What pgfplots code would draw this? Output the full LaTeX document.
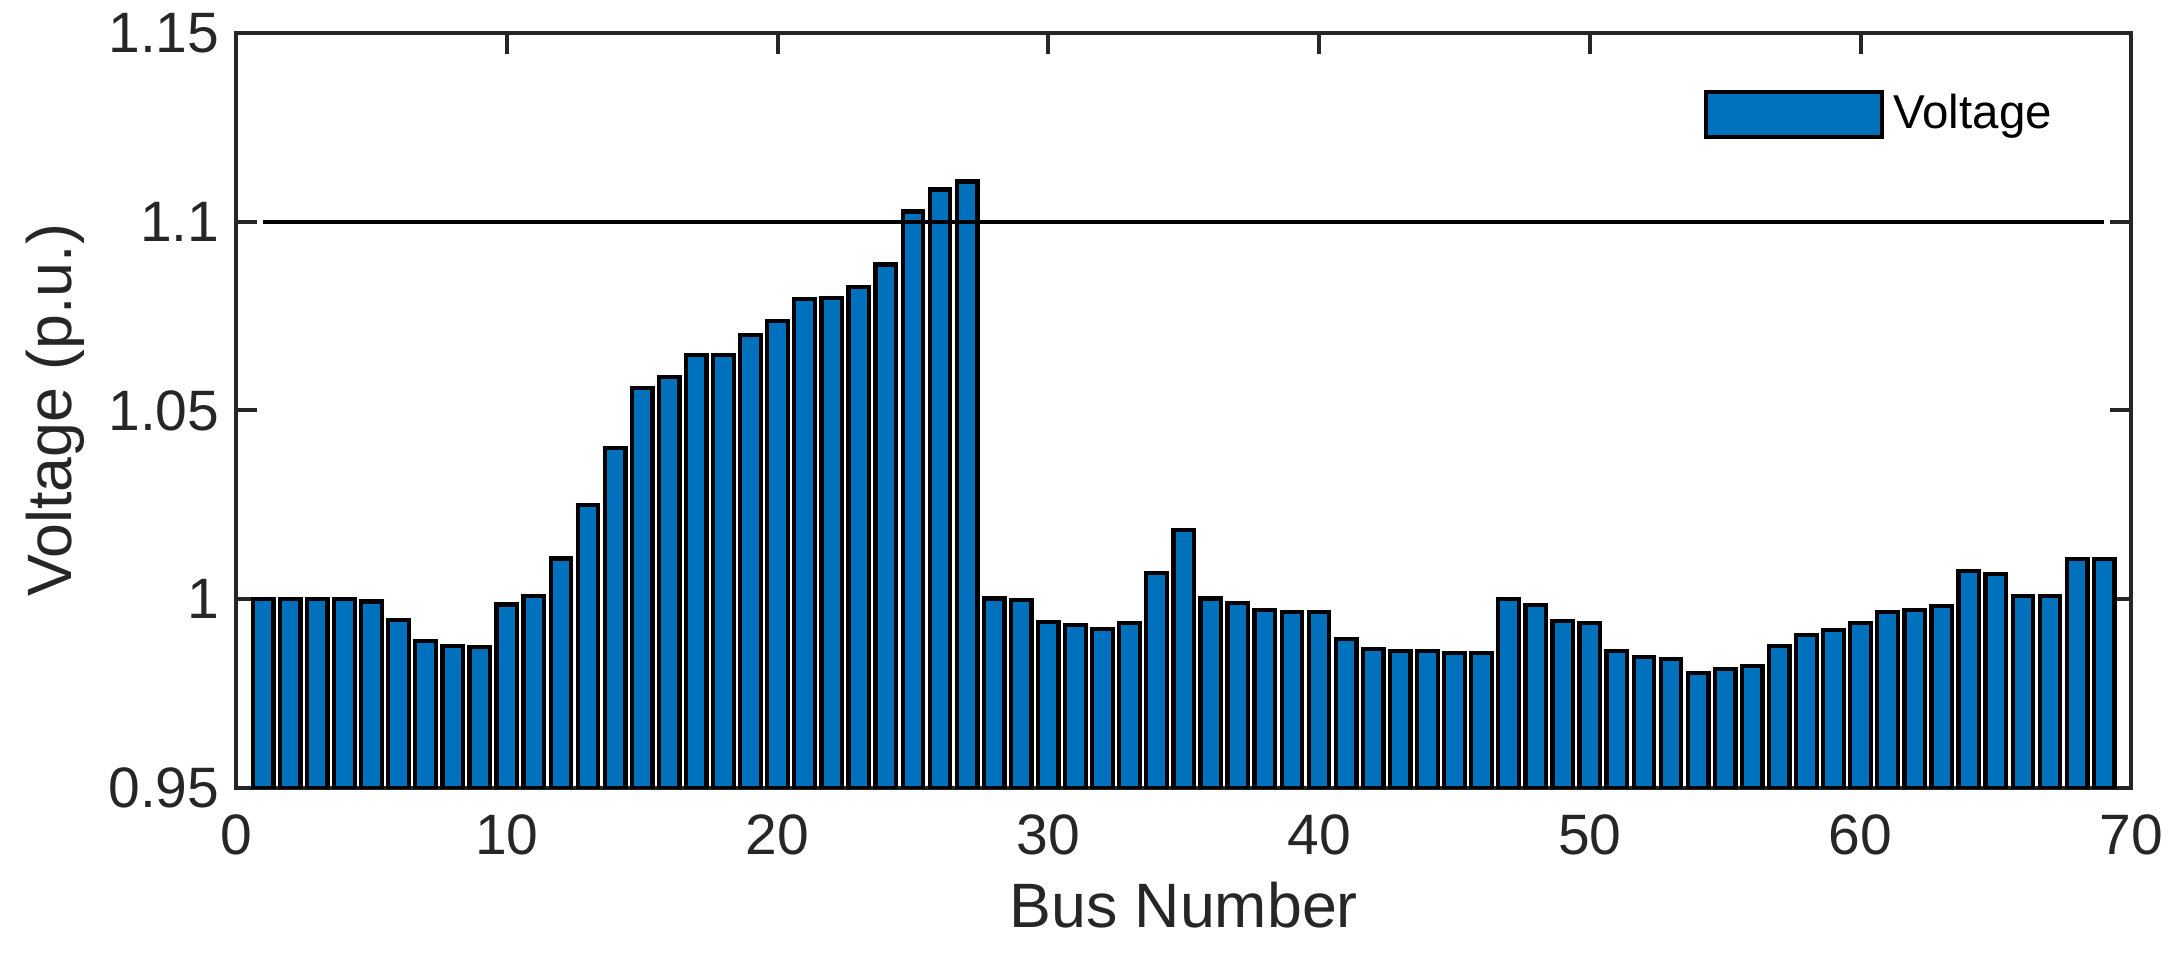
\documentclass[border=0pt]{standalone}
\usepackage{fontspec}
\setmainfont{Liberation Sans}
\usepackage{pgfplots}
\pgfplotsset{compat=1.18}
\usetikzlibrary{calc}

\definecolor{mblue}{HTML}{0072BD}
\definecolor{axgray}{HTML}{262626}

\begin{document}
\begin{tikzpicture}
\begin{axis}[
    name=ax,
    scale only axis,
    width=399pt, height=159pt,
    xmin=0, xmax=70, ymin=0.95, ymax=1.15,
    xtick={0,10,...,70},
    ytick={0.95,1,1.05,1.1,1.15},
    yticklabels={0.95,1,1.05,1.1,1.15},
    /pgf/number format/assume math mode=true,
    tick align=inside,
    major tick length=4.4pt,
    axis line style={axgray, line width=0.85pt},
    every tick/.style={axgray, line width=0.85pt},
    tick label style={font=\fontsize{12}{14}\selectfont, text=axgray},
    xticklabel style={yshift=-2pt},
    xlabel={Bus Number},
    ylabel={Voltage (p.u.)},
    label style={font=\fontsize{13.2}{15}\selectfont, text=axgray},
    xlabel style={yshift=1pt},
    ylabel style={yshift=-1.8pt},
    legend style={draw=none, fill=none, at={(1,1)}, anchor=east,
        xshift=-11.5pt, yshift=-17.2pt,
        font=\fontsize{10}{12}\selectfont},
    legend image code/.code={\draw[#1, line width=0.85pt] (0pt,-4.75pt) rectangle (37pt,4.75pt);},
]
\addplot[ybar, bar width=0.76, bar shift=0pt, fill=mblue, draw=black, line width=0.9pt]
coordinates {
(1,1.0000) (2,1.0000) (3,1.0000) (4,1.0000) (5,0.9994)
(6,0.9945) (7,0.9889) (8,0.9876) (9,0.9873) (10,0.9986)
(11,1.0009) (12,1.0108) (13,1.0250) (14,1.0400) (15,1.0559)
(16,1.0588) (17,1.0646) (18,1.0646) (19,1.0699) (20,1.0736)
(21,1.0794) (22,1.0797) (23,1.0826) (24,1.0886) (25,1.1027)
(26,1.1085) (27,1.1106) (28,1.0002) (29,0.9998) (30,0.9940)
(31,0.9931) (32,0.9921) (33,0.9937) (34,1.0069) (35,1.0183)
(36,1.0002) (37,0.9990) (38,0.9972) (39,0.9966) (40,0.9966)
(41,0.9895) (42,0.9869) (43,0.9863) (44,0.9863) (45,0.9858)
(46,0.9858) (47,1.0000) (48,0.9985) (49,0.9943) (50,0.9937)
(51,0.9863) (52,0.9847) (53,0.9842) (54,0.9805) (55,0.9816)
(56,0.9824) (57,0.9876) (58,0.9906) (59,0.9919) (60,0.9937)
(61,0.9966) (62,0.9972) (63,0.9982) (64,1.0075) (65,1.0067)
(66,1.0009) (67,1.0009) (68,1.0107) (69,1.0107)
};
\addlegendentry{Voltage}
\addplot[black, line width=0.85pt, forget plot] coordinates {(1,1.1) (69,1.1)};
\end{axis}
\pgfresetboundingbox
\path ($(ax.south west)+(-49.7pt,-37pt)$) rectangle ($(ax.north east)+(9pt,6.9pt)$);
\end{tikzpicture}
\end{document}
